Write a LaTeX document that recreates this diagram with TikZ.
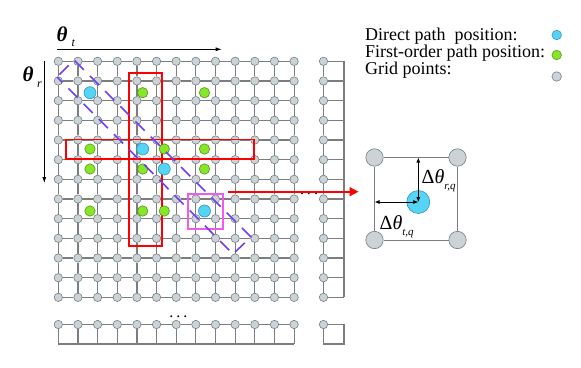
\documentclass[tikz,border=0pt]{standalone}
\usepackage{fontspec}
\setmainfont{Liberation Serif}
\usetikzlibrary{arrows.meta}
\definecolor{gridgray}{RGB}{125,125,125}
\definecolor{ptfill}{RGB}{204,211,214}
\definecolor{ptdraw}{RGB}{115,127,133}
\definecolor{dirfill}{RGB}{85,212,245}
\definecolor{dirdraw}{RGB}{50,150,185}
\definecolor{fofill}{RGB}{135,230,40}
\definecolor{fodraw}{RGB}{85,150,30}
\definecolor{bandblue}{RGB}{112,64,240}
\definecolor{zoommag}{RGB}{240,90,240}

\begin{document}
\begin{tikzpicture}[x=1pt, y=-1pt,
  font=\fontsize{18}{20}\selectfont,
  gpt/.style={circle, draw=ptdraw, fill=ptfill, line width=0.6pt,
              inner sep=0pt, minimum size=8.4pt},
  bigpt/.style={gpt, minimum size=17.4pt},
  dpt/.style={circle, draw=dirdraw, fill=dirfill, line width=0.6pt,
              inner sep=0pt, minimum size=12pt},
  fpt/.style={circle, draw=fodraw, fill=fofill, line width=0.6pt,
              inner sep=0pt, minimum size=10.4pt},
  gl/.style={draw=gridgray, line width=1.2pt},
  win/.style={draw=red, line width=1.8pt},
  band/.style={draw=bandblue, line width=1.6pt,
               dash pattern=on 13pt off 8.5pt, dash phase=18pt},
  axarr/.style={-{Latex[length=6pt,width=4pt]}, line width=0.8pt},
  dim/.style={{Latex[length=5pt,width=4pt]}-{Latex[length=5pt,width=4pt]},
              line width=0.8pt},
  lbl/.style={inner sep=0pt, anchor=base west}
]
\useasboundingbox (0,0) rectangle (581,367);
% grid points
\foreach \i in {0,...,12}{
  \foreach \j in {0,...,12}
    \node[gpt] (g\i-\j) at ({58.3+19.65*\i},{61.3+19.67*\j}) {};
  \node[gpt] (b\i) at ({58.3+19.65*\i},324.5) {};
  \coordinate (bb\i) at ({58.3+19.65*\i},344);
  \node[gpt] (e\i) at (323.5,{61.3+19.67*\i}) {};
  \coordinate (r\i) at (344,{61.3+19.67*\i});
}
\node[gpt] (bc) at (323.5,324.5) {};
\coordinate (bc1) at (344,324.5);
\coordinate (bc2) at (344,344);
\coordinate (bc3) at (323.5,344);
% grid lines
\foreach \i [count=\n from 1] in {0,...,11}{
  \foreach \j in {0,...,12}{
    \draw[gl] (g\i-\j) -- (g\n-\j);
    \draw[gl] (g\j-\i) -- (g\j-\n);
  }
  \draw[gl] (b\i) -- (b\n);
  \draw[gl] (e\i) -- (e\n);
}
\foreach \i in {0,...,12}{
  \draw[gl] (b\i) -- (bb\i);
  \draw[gl] (e\i) -- (r\i);
}
\draw[gl] (bb0) -- (bb12);
\draw[gl] (r0) -- (r12);
\draw[gl] (bc) -- (bc1) -- (bc2) -- (bc3) -- (bc);
\node[inner sep=0pt, anchor=base, font=\fontsize{16}{16}\selectfont] (dv)
  at (178.3,317) {.\kern3pt.\kern3pt.};
\node[inner sep=0pt, anchor=base, font=\fontsize{16}{16}\selectfont] (dh)
  at (309,194) {.\kern3pt.\kern3pt.};
% search windows
\draw[win] (129.3,72.7) rectangle (161.7,245.7);
\draw[win] (66,139.5) rectangle (254.3,159.3);
\draw[draw=zoommag, line width=1.8pt] (188.3,194) rectangle (223.3,229.3);
% path positions
\foreach \x/\y [count=\k] in {90/92.7,142.7/149,164.3/169,204.5/211}
  \node[dpt] (d\k) at (\x,\y) {};
\foreach \x/\y [count=\k] in {142.7/92.7,204.5/92.7,90/149,164.3/149,204.5/149,
    90/169,142.7/169,204.5/169,90/211,142.7/211,164.3/211}
  \node[fpt] (f\k) at (\x,\y) {};
\draw[band] (57,77) -- (74,60) -- (251,237) -- (233,254) -- cycle;
% axes
\coordinate (ta) at (57.3,49.3);
\coordinate (tb) at (221.7,49.3);
\coordinate (ra) at (44.3,61);
\coordinate (rb) at (44.3,183);
\draw[axarr] (ta) -- (tb);
\draw[axarr] (ra) -- (rb);
\node[lbl] (tl) at (56.5,41.5) {\fontsize{21}{21}\selectfont\bfseries\itshape
  θ\kern4pt\raisebox{-5.3pt}{\fontsize{12}{12}\selectfont\mdseries t}};
\node[lbl] (rl) at (22.5,81.5) {\fontsize{21}{21}\selectfont\bfseries\itshape
  θ\kern3.5pt\raisebox{-6.3pt}{\fontsize{12}{12}\selectfont\mdseries r}};
% zoom arrow
\coordinate (zs) at (228.3,191.7);
\coordinate (ze) at (358.5,191.7);
\draw[red, line width=1.8pt, -{Triangle[length=9pt,width=9pt]}] (zs) -- (ze);
% legend
\node[lbl] (l1) at (365,40) {Direct path\ \ position:};
\node[lbl] (l2) at (365,57) {First-order path position:};
\node[lbl] (l3) at (365,74) {Grid points:};
\node[dpt, minimum size=9.5pt] (k1) at (556.7,35) {};
\node[fpt, minimum size=9.5pt] (k2) at (556.7,55) {};
\node[gpt, minimum size=9.5pt] (k3) at (556.7,76.5) {};
% inset cell
\node[bigpt] (c1) at (374.5,157.5) {};
\node[bigpt] (c2) at (457.5,157.5) {};
\node[bigpt] (c3) at (374.5,240) {};
\node[bigpt] (c4) at (457.5,240) {};
\draw[draw=gridgray, line width=0.8pt] (c1) -- (c2) -- (c4) -- (c3) -- (c1);
\node[dpt, minimum size=23pt] (dq) at (418.3,202) {};
\coordinate (qt) at (dq.center |- c1.center);
\coordinate (ql) at (dq.center -| c1.center);
\draw[dim] (qt) -- (dq.center);
\draw[dim] (ql) -- (dq.center);
\node[lbl] (dr) at (421.5,183.5) {\fontsize{20}{20}\selectfont
  Δ\textit{θ}\raisebox{-5.5pt}{\fontsize{11}{11}\selectfont\itshape r,q}};
\node[lbl] (dt) at (379.5,229.5) {\fontsize{20}{20}\selectfont
  Δ\textit{θ}\raisebox{-5.5pt}{\fontsize{11}{11}\selectfont\itshape t,q}};
\end{tikzpicture}
\end{document}
